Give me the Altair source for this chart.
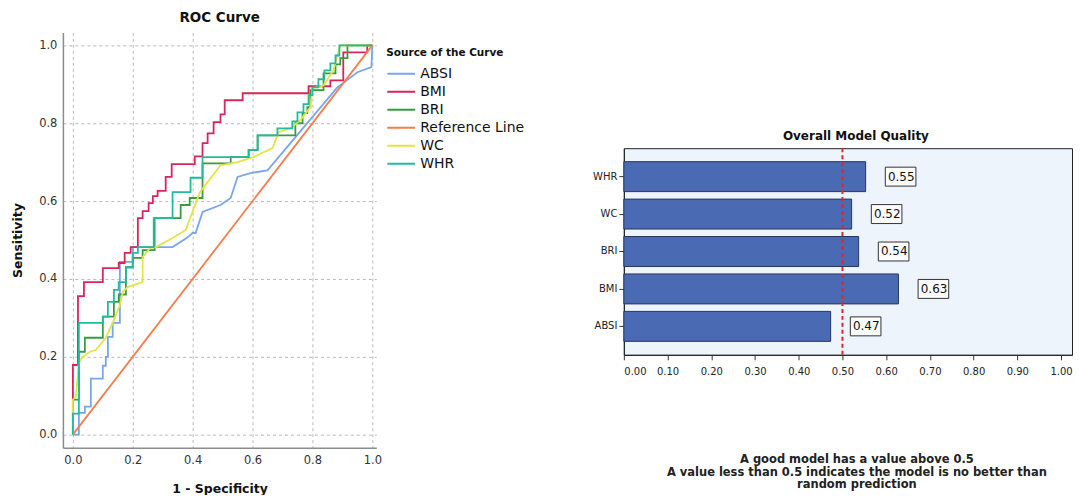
import altair as alt
import pandas as pd

# ---------------- ROC curve data (1 - specificity, sensitivity) ----------------
sources = ["ABSI", "BMI", "BRI", "Reference Line", "WC", "WHR"]
source_colors = ["#78a6ea", "#d8255a", "#3a9a3e", "#f47c4e", "#e2e447", "#22bba0"]

absi_fpr = [0, 0.02, 0.02, 0.04, 0.04, 0.06, 0.06, 0.10, 0.10, 0.11, 0.11, 0.117, 0.117, 0.133, 0.133,
            0.157, 0.157, 0.20, 0.20, 0.333, 0.38, 0.40, 0.41, 0.433, 0.493, 0.527, 0.55, 0.593, 0.65,
            0.883, 0.903, 0.95, 0.997, 1.0]
absi_tpr = [0, 0, 0.056, 0.056, 0.072, 0.072, 0.144, 0.144, 0.177, 0.177, 0.20, 0.20, 0.251, 0.251, 0.287,
            0.287, 0.444, 0.444, 0.482, 0.482, 0.505, 0.518, 0.518, 0.572, 0.59, 0.608, 0.662, 0.672, 0.679,
            0.892, 0.903, 0.931, 0.944, 1.0]

bmi_fpr = [0, 0, 0.017, 0.017, 0.037, 0.037, 0.10, 0.10, 0.153, 0.153, 0.173, 0.173, 0.193, 0.193, 0.217,
           0.217, 0.233, 0.233, 0.253, 0.253, 0.267, 0.267, 0.283, 0.283, 0.31, 0.31, 0.33, 0.33, 0.407,
           0.407, 0.433, 0.433, 0.45, 0.45, 0.47, 0.47, 0.493, 0.493, 0.507, 0.507, 0.567, 0.567, 0.787,
           0.787, 0.86, 0.86, 0.903, 0.903, 0.983, 0.983, 1.0]
bmi_tpr = [0, 0.179, 0.179, 0.356, 0.356, 0.392, 0.392, 0.428, 0.428, 0.441, 0.441, 0.467, 0.467, 0.482,
           0.482, 0.556, 0.556, 0.574, 0.574, 0.595, 0.595, 0.613, 0.613, 0.626, 0.626, 0.662, 0.662, 0.695,
           0.695, 0.715, 0.715, 0.749, 0.749, 0.774, 0.774, 0.803, 0.803, 0.823, 0.823, 0.859, 0.859, 0.877,
           0.877, 0.895, 0.895, 0.91, 0.91, 0.982, 0.982, 1.0, 1.0]

bri_fpr = [0, 0, 0.02, 0.02, 0.04, 0.04, 0.10, 0.10, 0.137, 0.137, 0.153, 0.153, 0.177, 0.177, 0.20, 0.20,
           0.233, 0.233, 0.273, 0.273, 0.36, 0.36, 0.39, 0.39, 0.433, 0.433, 0.527, 0.527, 0.587, 0.587,
           0.617, 0.617, 0.743, 0.743, 0.767, 0.767, 0.783, 0.783, 0.793, 0.793, 0.837, 0.837, 0.877,
           0.877, 0.893, 0.893, 0.917, 0.917, 1.0]
bri_tpr = [0, 0.09, 0.09, 0.213, 0.213, 0.249, 0.249, 0.303, 0.303, 0.341, 0.341, 0.36, 0.36, 0.43, 0.43,
           0.454, 0.454, 0.474, 0.474, 0.556, 0.556, 0.59, 0.59, 0.608, 0.608, 0.697, 0.697, 0.713, 0.713,
           0.731, 0.731, 0.769, 0.769, 0.80, 0.80, 0.826, 0.826, 0.841, 0.841, 0.885, 0.885, 0.928, 0.928,
           0.951, 0.951, 0.967, 0.967, 1.0, 1.0]

ref_fpr = [0, 1.0]
ref_tpr = [0, 1.0]

wc_fpr = [0, 0, 0.01, 0.02, 0.033, 0.057, 0.077, 0.11, 0.133, 0.157, 0.167, 0.183, 0.233, 0.233, 0.257,
          0.277, 0.333, 0.377, 0.393, 0.423, 0.437, 0.493, 0.55, 0.603, 0.667, 0.687, 0.727, 0.76, 0.793,
          0.80, 0.837, 0.87, 0.893, 1.0]
wc_tpr = [0, 0.09, 0.097, 0.185, 0.20, 0.213, 0.218, 0.249, 0.287, 0.333, 0.367, 0.379, 0.392, 0.456,
          0.479, 0.482, 0.505, 0.526, 0.559, 0.621, 0.636, 0.692, 0.70, 0.713, 0.736, 0.777, 0.787, 0.808,
          0.841, 0.89, 0.897, 0.936, 1.0, 1.0]

whr_fpr = [0, 0, 0.02, 0.02, 0.10, 0.10, 0.117, 0.117, 0.137, 0.137, 0.153, 0.153, 0.177, 0.177, 0.20,
           0.20, 0.217, 0.217, 0.27, 0.27, 0.333, 0.333, 0.393, 0.393, 0.433, 0.433, 0.587, 0.587, 0.617,
           0.617, 0.683, 0.683, 0.733, 0.733, 0.75, 0.75, 0.77, 0.77, 0.787, 0.787, 0.80, 0.80, 0.82, 0.82,
           0.84, 0.84, 0.86, 0.86, 0.877, 0.877, 0.89, 0.89, 1.0]
whr_tpr = [0, 0.054, 0.054, 0.287, 0.287, 0.303, 0.303, 0.341, 0.341, 0.372, 0.372, 0.392, 0.392, 0.43,
           0.43, 0.467, 0.467, 0.482, 0.482, 0.556, 0.556, 0.623, 0.623, 0.66, 0.66, 0.713, 0.713, 0.731,
           0.731, 0.769, 0.769, 0.787, 0.787, 0.805, 0.805, 0.828, 0.828, 0.849, 0.849, 0.872, 0.872, 0.892,
           0.892, 0.913, 0.913, 0.936, 0.936, 0.954, 0.954, 0.974, 0.974, 1.0, 1.0]

roc_ticks = [0.0, 0.2, 0.4, 0.6, 0.8, 1.0]

# ---------------- Overall model quality data ----------------
models = ["WHR", "WC", "BRI", "BMI", "ABSI"]
quality = [0.553, 0.521, 0.537, 0.628, 0.473]
quality_labels = ["0.55", "0.52", "0.54", "0.63", "0.47"]
threshold = [0.5]
quality_ticks = [0.0, 0.1, 0.2, 0.3, 0.4, 0.5, 0.6, 0.7, 0.8, 0.9, 1.0]
footnote = ["A good model has a value above 0.5",
            "A value less than 0.5 indicates the model is no better than",
            "random prediction"]

# ---------------- build tables ----------------
series = [("ABSI", absi_fpr, absi_tpr), ("BMI", bmi_fpr, bmi_tpr), ("BRI", bri_fpr, bri_tpr),
          ("Reference Line", ref_fpr, ref_tpr), ("WC", wc_fpr, wc_tpr), ("WHR", whr_fpr, whr_tpr)]
rows = []
for name, fx, ty in series:
    for i, (a, b) in enumerate(zip(fx, ty)):
        rows.append({"source": name, "fpr": a, "tpr": b, "idx": i})
roc_df = pd.DataFrame(rows)

bar_df = pd.DataFrame({"model": models, "quality": quality, "label": quality_labels})
thr_df = pd.DataFrame({"quality": threshold})

FONT = "DejaVu Sans"
GRID = "#b9b9b9"

roc = alt.Chart(roc_df).mark_line(strokeWidth=1.8).encode(
    x=alt.X("fpr:Q",
            scale=alt.Scale(domain=[-0.0333, 1.0133], nice=False, zero=False),
            axis=alt.Axis(values=roc_ticks, format=".1f", title="1 - Specificity",
                          grid=True, gridDash=[3, 3], gridColor=GRID, gridWidth=1,
                          ticks=False, domainColor="#8c8c8c", domainWidth=1.5,
                          labelFont=FONT, labelFontSize=11.5, labelColor="#333", labelPadding=7,
                          titleFont=FONT, titleFontSize=12.5, titleFontWeight="bold",
                          titleColor="#111", titlePadding=16)),
    y=alt.Y("tpr:Q",
            scale=alt.Scale(domain=[-0.0333, 1.0333], nice=False, zero=False),
            axis=alt.Axis(values=roc_ticks, format=".1f", title="Sensitivity",
                          grid=True, gridDash=[3, 3], gridColor=GRID, gridWidth=1,
                          ticks=False, domainColor="#8c8c8c", domainWidth=1.5,
                          labelFont=FONT, labelFontSize=11.5, labelColor="#333", labelPadding=6,
                          titleFont=FONT, titleFontSize=12.5, titleFontWeight="bold",
                          titleColor="#111", titlePadding=14)),
    color=alt.Color("source:N",
                    scale=alt.Scale(domain=sources, range=source_colors),
                    legend=alt.Legend(title="Source of the Curve", orient="none",
                                      legendX=324, legendY=16, padding=0,
                                      symbolType="stroke", symbolSize=780, symbolStrokeWidth=2,
                                      labelFont=FONT, labelFontSize=14, labelColor="#111",
                                      titleFont=FONT, titleFontSize=10.5, titleFontWeight="bold",
                                      titleColor="#111", titlePadding=6, rowPadding=0,
                                      clipHeight=18, labelOffset=4)),
    order=alt.Order("idx:Q"),
).properties(
    width=314, height=416,
    title=alt.TitleParams("ROC Curve", font=FONT, fontSize=13.5, fontWeight="bold",
                          color="#111", offset=8),
)

y_enc = alt.Y("model:N", sort=models,
              scale=alt.Scale(paddingInner=0.2, paddingOuter=0.36),
              axis=alt.Axis(title=None, labelFont=FONT, labelFontSize=10, labelColor="#222",
                            ticks=True, tickSize=5, tickColor="#333", domainColor="#222",
                            labelPadding=2))
x_scale = alt.Scale(domain=[0, 1.025], nice=False, zero=True)
x_axis = alt.Axis(values=quality_ticks, format=".2f", grid=False, title=footnote,
                  labelFont=FONT, labelFontSize=10, labelColor="#222", labelPadding=7,
                  ticks=True, tickSize=5, tickColor="#333", domainColor="#222",
                  titleFont=FONT, titleFontSize=11.5, titleFontWeight="bold", titleColor="#222",
                  titleLineHeight=12.5, titlePadding=77, titleX=233)

bars = alt.Chart(bar_df).mark_bar(fill="#4a6ab4", stroke="#27345f", strokeWidth=1).encode(
    x=alt.X("quality:Q", scale=x_scale, axis=x_axis),
    y=y_enc,
)
rule = alt.Chart(thr_df).mark_rule(color="#e3262b", strokeDash=[4, 3], strokeWidth=2).encode(
    x=alt.X("quality:Q", scale=x_scale, axis=x_axis))
boxes = alt.Chart(bar_df).transform_calculate(
    lo="datum.quality + 0.045", hi="datum.quality + 0.115"
).mark_bar(size=19, fill="#fbfbfb", stroke="#333", strokeWidth=1).encode(
    x=alt.X("lo:Q", scale=x_scale, axis=x_axis), x2="hi:Q", y=y_enc)
texts = alt.Chart(bar_df).transform_calculate(
    lo="datum.quality + 0.051"
).mark_text(align="left", baseline="middle", font=FONT, fontSize=12, color="#111").encode(
    x=alt.X("lo:Q", scale=x_scale, axis=x_axis), y=y_enc, text="label:N")

quality_chart = alt.layer(bars, rule, boxes, texts).properties(
    width=449, height=207,
    view=alt.ViewBackground(fill="#eef4fb", stroke="#222", strokeWidth=1),
    title=alt.TitleParams("Overall Model Quality", font=FONT, fontSize=12, fontWeight="bold",
                          color="#111", offset=4, dx=8),
)

spacer = alt.Chart(pd.DataFrame({"a": [0]})).mark_point(opacity=0).encode(
    x=alt.value(0), y=alt.value(0)).properties(width=10, height=116)

right = alt.vconcat(spacer, quality_chart, spacing=0, bounds="flush")

chart = alt.hconcat(roc, right, spacing=248, bounds="flush").properties(
    padding={"left": 3, "top": 2, "right": 0, "bottom": 0}
).configure_view(strokeWidth=0)

chart.save("out.html", embed_options={"renderer": "svg", "actions": False})
